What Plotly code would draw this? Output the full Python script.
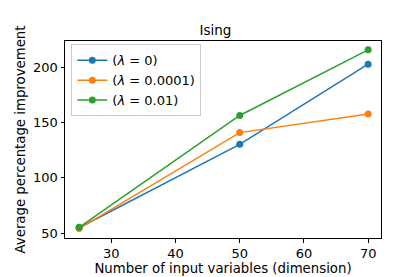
import plotly.graph_objects as go

dims = [25, 50, 70]
series_names = ["(<i>λ</i> = 0)", "(<i>λ</i> = 0.0001)", "(<i>λ</i> = 0.01)"]
vals_l0 = [54.8, 130.4, 203.0]
vals_l1 = [54.0, 141.0, 157.8]
vals_l2 = [55.2, 156.5, 216.0]
colors = ["#1f77b4", "#ff7f0e", "#2ca02c"]
x_ticks = [30, 40, 50, 60, 70]
y_ticks = [50, 100, 150, 200]

fig = go.Figure()
for i, (name, vals, c) in enumerate(zip(series_names, [vals_l0, vals_l1, vals_l2], colors)):
    fig.add_trace(go.Scatter(x=dims, y=vals, mode="lines+markers", name=name,
                             line=dict(color=c, width=1.5),
                             marker=dict(color=c, size=7)))

fam = "DejaVu Sans"
fig.update_layout(
    width=415, height=277,
    margin=dict(l=52, r=42, t=33, b=34),
    paper_bgcolor="white", plot_bgcolor="white",
    font=dict(family=fam, size=13, color="black"),
    title=dict(text="Ising", x=0.5, xanchor="center", y=1 - 22/277, yanchor="middle",
               font=dict(family=fam, size=13.5, color="black")),
    showlegend=True,
    legend=dict(x=0.02, y=0.983, xanchor="left", yanchor="top",
                bgcolor="rgba(255,255,255,0.8)", bordercolor="#cccccc", borderwidth=1,
                font=dict(family=fam, size=13, color="black"),
                tracegroupgap=0, itemwidth=30),
)
fig.update_xaxes(range=[22.8, 72.0], tickvals=x_ticks, showgrid=False, zeroline=False,
                 showline=True, linecolor="black", linewidth=1, mirror=True,
                 ticks="outside", ticklen=3.5, tickcolor="black",
                 tickfont=dict(family=fam, size=13, color="black"),
                 title=dict(text="Number of input variables (dimension)", standoff=3,
                            font=dict(family=fam, size=13.3, color="black")))
fig.update_yaxes(range=[45.5, 224.0], tickvals=y_ticks, showgrid=False, zeroline=False,
                 showline=True, linecolor="black", linewidth=1, mirror=True,
                 ticks="outside", ticklen=3.5, tickcolor="black",
                 tickfont=dict(family=fam, size=13, color="black"),
                 title=dict(text="Average percentage improvement", standoff=4,
                            font=dict(family=fam, size=13.3, color="black")))
fig.write_html("out.html")
